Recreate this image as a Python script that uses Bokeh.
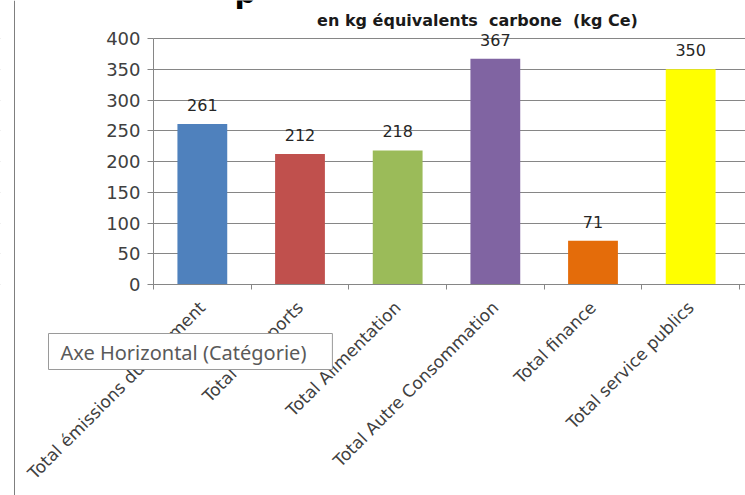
import numpy as np
from bokeh.plotting import figure
from bokeh.models import Range1d, FixedTicker, Label, ColumnDataSource, Span, BoxAnnotation
from bokeh.embed import file_html
from bokeh.resources import INLINE

# ---- data ----
categories = ["Total émissions du logement", "Total Transports", "Total Alimentation",
              "Total Autre Consommation", "Total finance", "Total service publics"]
values = [261, 212, 218, 367, 71, 350]
colors = ["#4F81BD", "#C0504D", "#9BBB59", "#8064A2", "#E46C0A", "#FFFF00"]
y_ticks = [0, 50, 100, 150, 200, 250, 300, 350, 400]
y_max = 400
title_fragment = "p"
subtitle = "en kg équivalents\u00a0\u00a0carbone\u00a0\u00a0(kg Ce)"
tooltip_text = "Axe Horizontal (Catégorie)"

# ---- layout (pixel targets inside the figure) ----
W, H = 745, 495
AX_L, AX_R = 153, 739      # x pixels of the category range
AX_T, AX_B = 38, 284       # y pixels of 400 and 0
n = len(categories)
px_per_cat = (AX_R - AX_L) / n
px_per_unit = (AX_B - AX_T) / y_max

def xd(px):
    return (px - AX_L) / px_per_cat

def yd(py):
    return (AX_B - py) / px_per_unit

centers = np.arange(n) + 0.5
src = ColumnDataSource(dict(x=centers, top=values, color=colors,
                            lab=[str(v) for v in values]))

p = figure(width=W, height=H, output_backend="svg", toolbar_location=None,
           x_range=Range1d(xd(0), xd(W)), y_range=Range1d(yd(H), yd(0)),
           min_border_left=0, min_border_right=0, min_border_top=0,
           min_border_bottom=0, outline_line_color=None,
           background_fill_color="white", border_fill_color="white")

# grid
p.xgrid.grid_line_color = None
p.ygrid.grid_line_color = "#868686"
p.ygrid.ticker = FixedTicker(ticks=y_ticks)
# hide grid left of the value axis
p.add_layout(BoxAnnotation(left=xd(-20), right=0, bottom=yd(H + 20), top=yd(-20),
                           fill_color="white", fill_alpha=1.0,
                           line_color=None, level="underlay"))

p.vbar(x="x", top="top", width=0.51, color="color", line_color=None, source=src)
p.text(x="x", y="top", text="lab", source=src, text_align="center",
       text_baseline="bottom", y_offset=-13, text_font_size="16px",
       text_font={"value": "DejaVu Sans"}, text_color="#262626")

# y axis
p.yaxis.fixed_location = 0
p.yaxis.bounds = (0, y_max)
p.yaxis.ticker = FixedTicker(ticks=y_ticks)
p.yaxis.axis_line_color = "#868686"
p.yaxis.major_tick_line_color = "#868686"
p.yaxis.major_tick_out = 6
p.yaxis.major_tick_in = 0
p.yaxis.minor_tick_line_color = None
p.yaxis.major_label_text_font = "DejaVu Sans"
p.yaxis.major_label_text_font_size = "18px"
p.yaxis.major_label_text_color = "#404040"
p.yaxis.major_label_standoff = 7

# x axis
p.xaxis.fixed_location = 0
p.xaxis.bounds = (0, n)
p.xaxis.ticker = FixedTicker(ticks=list(centers), minor_ticks=list(range(n + 1)))
p.xaxis.major_label_overrides = {float(c): name for c, name in zip(centers, categories)}
p.xaxis.axis_line_color = "#868686"
p.xaxis.major_tick_line_color = None
p.xaxis.minor_tick_line_color = "#868686"
p.xaxis.minor_tick_out = 5
p.xaxis.minor_tick_in = 0
p.xaxis.major_label_orientation = np.pi / 4
p.xaxis.major_label_text_font = "DejaVu Sans"
p.xaxis.major_label_text_font_size = "17px"
p.xaxis.major_label_text_color = "#404040"
p.xaxis.major_label_standoff = 14

# left border line of the window
p.add_layout(Span(location=xd(14), dimension="height", line_color="#7f7f7f", line_width=1))

# cut-off main title fragment at the very top
p.add_layout(Label(x=xd(234), y=yd(-8), text=title_fragment, text_align="left",
                   text_baseline="alphabetic", text_font="DejaVu Sans",
                   text_font_style="bold", text_font_size="30px", text_color="#000000"))

# subtitle
p.add_layout(Label(x=xd(477), y=yd(20), text=subtitle, text_align="center",
                   text_baseline="middle", text_font="DejaVu Sans",
                   text_font_style="bold", text_font_size="16px",
                   text_color="#1a1a1a"))

# tooltip (shadow + box); padding order: left, right, top, bottom
pad = (12, 26, 5, 4)
p.add_layout(Label(x=xd(48), y=yd(351), text=tooltip_text, text_align="left",
                   text_baseline="middle", text_font="Noto Sans", text_font_size="20px",
                   text_alpha=0.0, x_offset=3, y_offset=-3, padding=pad,
                   background_fill_color="#b8b8b8", background_fill_alpha=0.8))
p.add_layout(Label(x=xd(48), y=yd(351), text=tooltip_text, text_align="left",
                   text_baseline="middle", text_font="Noto Sans", text_font_size="20px",
                   text_color="#5a5a5a", padding=pad,
                   background_fill_color="white", border_line_color="#9a9a9a"))

open("out.html", "w").write(file_html(p, INLINE))
